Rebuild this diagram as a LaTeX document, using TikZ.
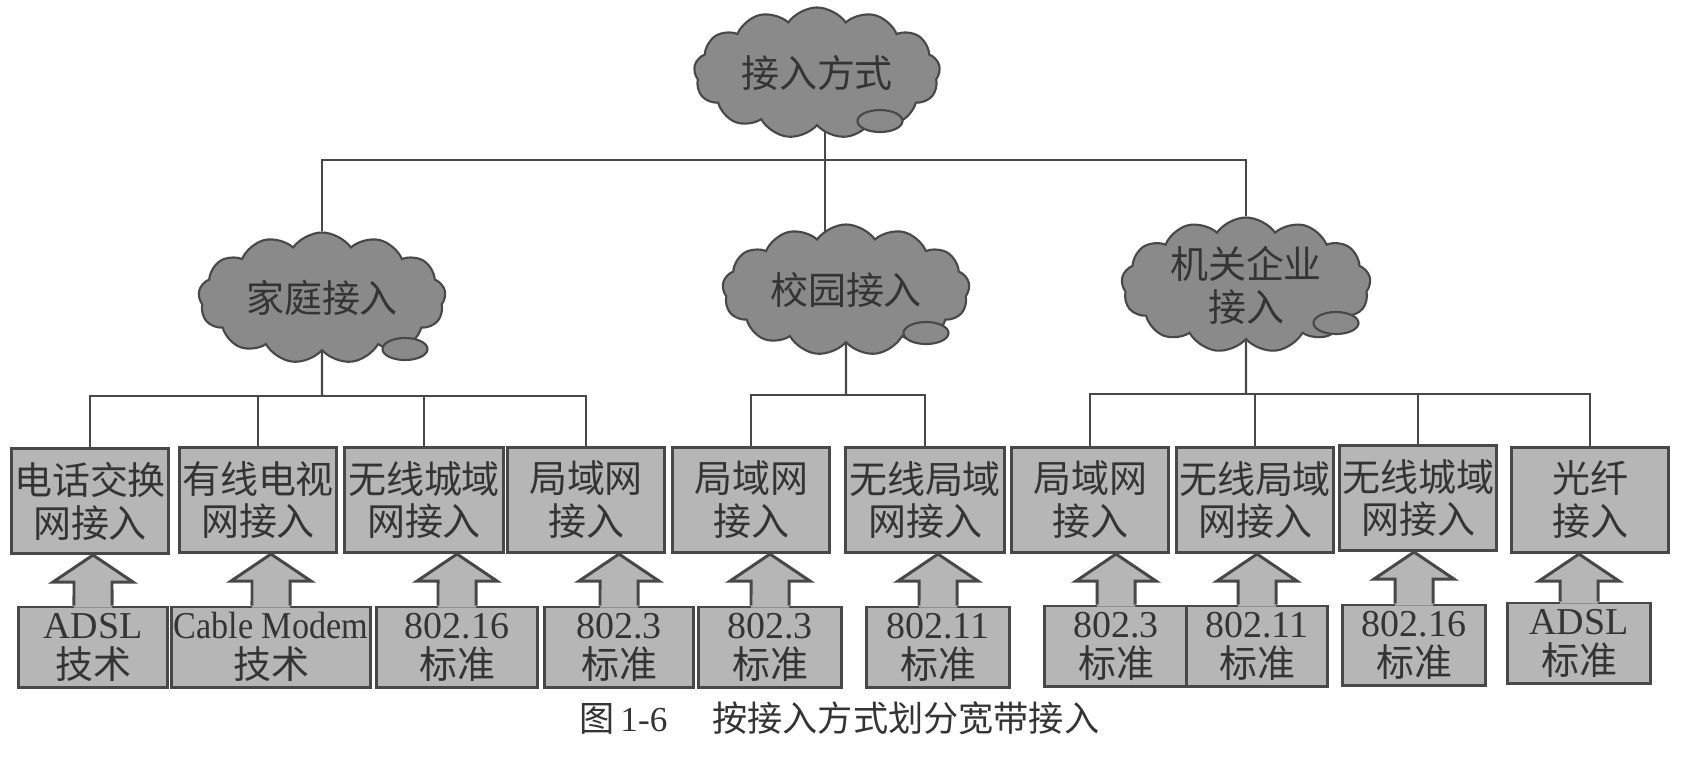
\documentclass[tikz,border=0pt]{standalone}
\usepackage{fontspec}
\usepackage{xcolor}
\usepackage{graphicx}
\usepackage{tikz}
\usetikzlibrary{shapes.symbols,shapes.geometric,calc,backgrounds}
\setmainfont{Liberation Serif}
\newfontfamily\cjk{Noto Sans CJK SC}
\definecolor{cloudgray}{RGB}{138,138,138}
\definecolor{boxgray}{RGB}{182,182,182}
\definecolor{linegray}{RGB}{72,72,72}
\definecolor{textgray}{RGB}{52,52,52}

\newcommand{\fatarrow}[2]{%
  \fill[boxgray] ([shift={(-0.19cm,-0.02cm)}]#1.north) -- ($(#1.north |- #2.south)+(-19,27)$) -- ++(-21,0) -- (#1.north |- #2.south) -- ++(40,27) -- ++(-21,0) -- ([shift={(0.19cm,-0.02cm)}]#1.north) -- cycle;
  \draw[arrowline] ([xshift=-0.19cm]#1.north) -- ($(#1.north |- #2.south)+(-19,27)$) -- ++(-21,0) -- (#1.north |- #2.south) -- ++(40,27) -- ++(-21,0) -- ([xshift=0.19cm]#1.north);
}

\begin{document}
\begin{tikzpicture}[
  x=0.01cm, y=-0.01cm,
  cloudnode/.style={cloud, cloud puffs=13, cloud puff arc=110, aspect=2, draw=linegray, line width=0.6pt, fill=cloudgray, inner sep=0pt, align=center, text=textgray, font=\cjk\fontsize{10.8}{12.2}\selectfont},
  puff/.style={ellipse, draw=linegray, fill=cloudgray, line width=0.6pt, minimum width=0.45cm, minimum height=0.22cm, inner sep=0pt},
  netbox/.style={rectangle, draw=linegray, fill=boxgray, line width=0.85pt, minimum width=1.56cm, minimum height=1.05cm, inner sep=0pt, align=center, text=textgray, font=\cjk\fontsize{10.8}{12.2}\selectfont},
  techbox/.style={rectangle, draw=linegray, fill=boxgray, line width=0.85pt, minimum width=1.45cm, minimum height=0.8cm, inner sep=0pt, align=center, text=textgray, font=\fontsize{10.8}{11.4}\selectfont},
  tree/.style={draw=linegray, line width=0.6pt},
  arrowline/.style={draw=linegray, line width=0.85pt}
]
\useasboundingbox (0,0) rectangle (1682,756);

% Clouds
\node[cloudnode, minimum width=2.46cm, minimum height=1.23cm] (fangshi) at (817,73) {接入方式};
\node[puff] (fangshi-puff) at (880,121) {};
\node[cloudnode, minimum width=2.47cm, minimum height=1.23cm] (jiating) at (322,298) {家庭接入};
\node[puff] (jiating-puff) at (405,349) {};
\node[cloudnode, minimum width=2.47cm, minimum height=1.06cm] (xiaoyuan) at (846,290) {校园接入};
\node[puff] (xiaoyuan-puff) at (926,333) {};
\node[cloudnode, minimum width=2.49cm, minimum height=1.25cm] (jiguan) at (1246,285) {机关企业\\接入};
\node[puff] (jiguan-puff) at (1336,323) {};

% Access networks
\node[netbox] (wang1) at (90,501) {电话交换\\网接入};
\node[netbox] (wang2) at (258,500) {有线电视\\网接入};
\node[netbox, minimum width=1.58cm] (wang3) at (424,500) {无线城域\\网接入};
\node[netbox] (wang4) at (586,500) {局域网\\接入};
\node[netbox] (wang5) at (751,500) {局域网\\接入};
\node[netbox, minimum width=1.58cm] (wang6) at (925,500) {无线局域\\网接入};
\node[netbox] (wang7) at (1090,500) {局域网\\接入};
\node[netbox] (wang8) at (1255,500) {无线局域\\网接入};
\node[netbox] (wang9) at (1418,498) {无线城域\\网接入};
\node[netbox] (wang10) at (1590,500) {光纤\\接入};

% Technologies
\node[techbox, minimum width=1.48cm] (biao1) at (93,647) {ADSL\\\cjk 技术};
\node[techbox, minimum width=1.98cm] (biao2) at (271,647) {\scalebox{0.9}[1]{Cable Modem}\\\cjk 技术};
\node[techbox, minimum width=1.60cm] (biao3) at (457,647) {802.16\\\cjk 标准};
\node[techbox, minimum width=1.48cm] (biao4) at (619,647) {802.3\\\cjk 标准};
\node[techbox, minimum width=1.43cm] (biao5) at (770,647) {802.3\\\cjk 标准};
\node[techbox, minimum width=1.43cm] (biao6) at (938,647) {802.11\\\cjk 标准};
\node[techbox, minimum width=1.42cm] (biao7) at (1116,646) {802.3\\\cjk 标准};
\node[techbox, minimum width=1.40cm] (biao8) at (1257,646) {802.11\\\cjk 标准};
\node[techbox, minimum width=1.43cm] (biao9) at (1414,645) {802.16\\\cjk 标准};
\node[techbox, minimum width=1.43cm] (biao10) at (1579,643) {ADSL\\\cjk 标准};

% Fat arrows
\fatarrow{biao1}{wang1}
\fatarrow{biao2}{wang2}
\fatarrow{biao3}{wang3}
\fatarrow{biao4}{wang4}
\fatarrow{biao5}{wang5}
\fatarrow{biao6}{wang6}
\fatarrow{biao7}{wang7}
\fatarrow{biao8}{wang8}
\fatarrow{biao9}{wang9}
\fatarrow{biao10}{wang10}

% Tree
\coordinate (trunk) at (825,160);
\coordinate (hbus) at (0,396);
\coordinate (cbus) at (0,395);
\coordinate (ebus) at (0,394);
\begin{scope}[on background layer]
\draw[tree] (fangshi -| trunk) -- (xiaoyuan -| trunk);
\draw[tree] (jiating) -- (jiating |- trunk) -- (jiguan |- trunk) -- (jiguan);

\draw[tree] (jiating) -- (jiating |- hbus);
\draw[tree] (wang1.north) -- (wang1.north |- hbus) -- (wang4.north |- hbus) -- (wang4.north);
\draw[tree] (wang2.north) -- (wang2.north |- hbus);
\draw[tree] (wang3.north) -- (wang3.north |- hbus);

\draw[tree] (xiaoyuan) -- (xiaoyuan |- cbus);
\draw[tree] (wang5.north) -- (wang5.north |- cbus) -- (wang6.north |- cbus) -- (wang6.north);

\draw[tree] (jiguan) -- (jiguan |- ebus);
\draw[tree] (wang7.north) -- (wang7.north |- ebus) -- (wang10.north |- ebus) -- (wang10.north);
\draw[tree] (wang8.north) -- (wang8.north |- ebus);
\draw[tree] (wang9.north) -- (wang9.north |- ebus);
\end{scope}

% Caption
\node[anchor=west, text=textgray, font=\fontsize{10}{12}\selectfont] (caption) at (567,718) {{\cjk 图}\,1-6\hspace{0.45cm}{\cjk 按接入方式划分宽带接入}};

\end{tikzpicture}
\end{document}
